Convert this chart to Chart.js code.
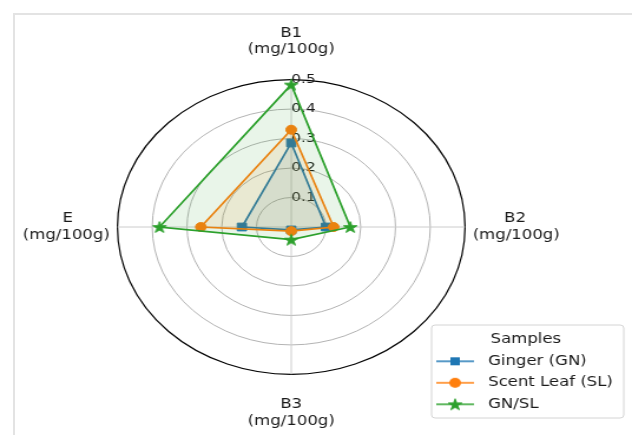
<!DOCTYPE html>
<html>
<head>
<meta charset="utf-8">
<script src="https://cdn.jsdelivr.net/npm/chart.js@4.4.0/dist/chart.umd.min.js"></script>
<style>
body{margin:0;background:#fff;overflow:hidden;}
#frame{position:absolute;left:13px;top:13px;width:700px;height:500px;border-top:2px solid #e3e3e3;border-left:2px solid #e3e3e3;}
#radar{position:absolute;left:0;top:0;}
</style>
</head>
<body>
<div id="frame"></div>
<!-- the source picture was stretched sideways, so the canvas is too (inline style so Chart.js keeps it) -->
<canvas id="radar" width="536" height="435" style="width:632px;height:435px"></canvas>
<script>
// data
const categories=['B1','B2','B3','E'];
const unit='(mg/100g)';
const ginger=[0.285,0.10,0.01,0.142];
const scentLeaf=[0.33,0.122,0.014,0.26];
const gnsl=[0.483,0.17,0.043,0.379];
const tickValues=[0.1,0.2,0.3,0.4,0.5];
const seriesNames=['Ginger (GN)','Scent Leaf (SL)','GN/SL'];

const colors=['#1f77b4','#ff7f0e','#2ca02c'];
const fills=['rgba(31,119,180,0.1)','rgba(255,127,14,0.1)','rgba(44,160,44,0.1)'];
const txt='#1a1a1a';

Chart.defaults.font.family='"DejaVu Sans", sans-serif';

// matplotlib style star marker
function starPath(c,cx,cy,r){
	const ri=r*0.382;
	c.beginPath();
	for(let i=0;i<10;i++){
		const rr=(i%2==0)?r:ri;
		const a=-Math.PI/2+i*Math.PI/5;
		const px=cx+rr*Math.cos(a),py=cy+rr*Math.sin(a);
		if(i==0) c.moveTo(px,py); else c.lineTo(px,py);
	}
	c.closePath();
}
function makeStar(col){
	const cv=document.createElement('canvas');
	cv.width=16;cv.height=16;
	const c=cv.getContext('2d');
	starPath(c,8,8.6,6);
	c.fillStyle=col;c.fill();
	c.strokeStyle=col;c.lineWidth=1;c.stroke();
	return cv;
}
const starImg=makeStar(colors[2]);

// legend handles: line with the marker in the middle
function makeIcon(k){
	const cv=document.createElement('canvas');
	cv.width=32;cv.height=16;
	const c=cv.getContext('2d');
	c.strokeStyle=colors[k];c.lineWidth=1.5;
	c.beginPath();c.moveTo(0,8);c.lineTo(32,8);c.stroke();
	c.fillStyle=colors[k];c.lineWidth=1;
	if(k==0){c.fillRect(12,4,8,8);}
	else if(k==1){c.beginPath();c.arc(16,8,5,0,Math.PI*2);c.fill();}
	else{starPath(c,16,8.6,6);c.fill();c.stroke();}
	return cv;
}
const icons=[makeIcon(0),makeIcon(1),makeIcon(2)];

// legend sits inside the plot area, bottom right, with a rounded frame
const legendBox={x:366,y:325,w:163,h:93};
const legendPlace={
	id:'legendPlace',
	afterLayout(chart){
		const lg=chart.legend;
		lg.left=357.5;lg.top=326;lg.width=177;lg.height=95;
		lg.right=lg.left+lg.width;lg.bottom=lg.top+lg.height;
	},
	beforeDraw(chart){
		const c=chart.ctx;
		c.save();
		c.beginPath();
		c.roundRect(legendBox.x,legendBox.y,legendBox.w,legendBox.h,3);
		c.fillStyle='rgba(255,255,255,0.8)';
		c.fill();
		c.strokeStyle='#d4d4d4';
		c.lineWidth=1;
		c.stroke();
		c.restore();
	}
};

const series=[ginger,scentLeaf,gnsl];
const styles=['rect','circle',starImg];
const radii=[5.5,4.5,6];
const datasets=series.map(function(vals,i){
	return {
		label:seriesNames[i],
		data:vals,
		borderColor:colors[i],
		backgroundColor:fills[i],
		borderWidth:1.7,
		fill:true,
		pointStyle:styles[i],
		pointRadius:radii[i],
		pointBackgroundColor:colors[i],
		pointBorderColor:colors[i],
		pointBorderWidth:1,
		order:3-i
	};
});

new Chart(document.getElementById('radar'),{
	type:'radar',
	data:{labels:categories,datasets:datasets},
	options:{
		responsive:false,
		animation:false,
		devicePixelRatio:1,
		layout:{padding:{left:1,right:42.4,top:24.5,bottom:4}},
		elements:{line:{tension:0}},
		plugins:{
			tooltip:{enabled:false},
			legend:{
				position:'chartArea',
				fullSize:false,
				align:'start',
				title:{display:true,text:'Samples',color:txt,font:{size:14},padding:{top:6,bottom:-2}},
				labels:{
					usePointStyle:true,
					pointStyleWidth:42,
					padding:7.5,
					color:txt,
					font:{size:14},
					sort:(a,b)=>a.datasetIndex-b.datasetIndex,
					generateLabels:function(chart){
						const items=Chart.defaults.plugins.legend.labels.generateLabels(chart);
						items.forEach(function(it){
							it.pointStyle=icons[it.datasetIndex];
							it.fontColor=txt;
						});
						return items;
					}
				}
			}
		},
		scales:{
			r:{
				min:0,
				max:tickValues[tickValues.length-1],
				ticks:{
					stepSize:tickValues[0],
					showLabelBackdrop:false,
					backdropPadding:0,
					color:txt,
					font:{size:13},
					// spaces push the label to the right of the axis
					callback:v=>'     '+v.toFixed(1)
				},
				grid:{
					circular:true,
					color:c=>(c.tick&&c.tick.value>0.45)?'#000':'#aaaaaa',
					lineWidth:c=>(c.tick&&c.tick.value>0.45)?1.2:0.9
				},
				angleLines:{color:'#cccccc',lineWidth:1},
				pointLabels:{
					color:txt,
					font:{size:14},
					padding:c=>c.index==0?15:(c.index==2?15:0),
					callback:function(l,i){
						if(i==1) return ['      '+l,unit];
						if(i==3) return [l+'       ',unit];
						return [l,unit];
					}
				}
			}
		}
	},
	plugins:[legendPlace]
});
</script>
</body>
</html>
